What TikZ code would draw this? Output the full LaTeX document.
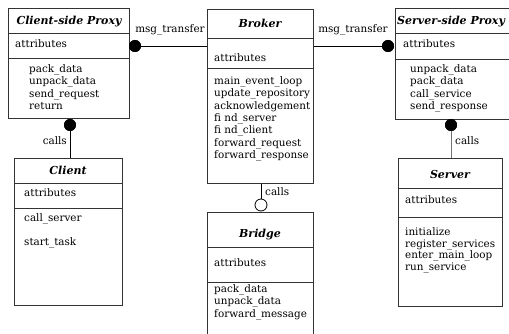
\documentclass[tikz,border=0pt]{standalone}
\usepackage{fontspec}
\setmainfont{DejaVu Serif}
\begin{document}
\begin{tikzpicture}[x=1pt,y=-1pt,
  box/.style={draw=black!80,line width=0.8pt,rectangle,inner sep=0pt,anchor=north west},
  sep/.style={draw=black!80,line width=0.8pt},
  ttl/.style={font=\fontsize{11}{13}\selectfont\bfseries\itshape,inner sep=0pt,anchor=mid},
  txt/.style={font=\fontsize{10.4}{12}\selectfont,inner sep=0pt,anchor=mid west},
  lbl/.style={font=\fontsize{10.4}{12}\selectfont,inner sep=0pt},
  dot/.style={circle,fill=black,inner sep=0pt,minimum size=12pt},
  odot/.style={circle,draw=black,fill=white,line width=0.8pt,inner sep=0pt,minimum size=12pt},
  con/.style={line width=0.8pt}]
\useasboundingbox (0,0) rectangle (509,334);
\clip (0,0) rectangle (509,334);
% boxes
\node[box,minimum width=121pt,minimum height=110pt] (cp) at (8,8) {};
\node[box,minimum width=106pt,minimum height=174pt] (br) at (207,9) {};
\node[box,minimum width=130pt,minimum height=111pt] (sp) at (395,8) {};
\node[box,minimum width=108pt,minimum height=147pt] (cl) at (14,158) {};
\node[box,minimum width=106pt,minimum height=140pt] (bg) at (207,212) {};
\node[box,minimum width=104pt,minimum height=148pt] (sv) at (398,158) {};
% dividers
\draw[sep] (cp.west |- 0,33) -- (cp.east |- 0,33) (cp.west |- 0,58) -- (cp.east |- 0,58);
\draw[sep] (br.west |- 0,38) -- (br.east |- 0,38) (br.west |- 0,68) -- (br.east |- 0,68);
\draw[sep] (sp.west |- 0,33) -- (sp.east |- 0,33) (sp.west |- 0,59) -- (sp.east |- 0,59);
\draw[sep] (cl.west |- 0,183) -- (cl.east |- 0,183) (cl.west |- 0,208) -- (cl.east |- 0,208);
\draw[sep] (bg.west |- 0,247) -- (bg.east |- 0,247) (bg.west |- 0,282) -- (bg.east |- 0,282);
\draw[sep] (sv.west |- 0,188) -- (sv.east |- 0,188) (sv.west |- 0,217) -- (sv.east |- 0,217);
% titles
\node[ttl] (cpt) at (69,22) {Client-side Proxy};
\node[ttl] (brt) at (260,25) {Broker};
\node[ttl,anchor=mid west] (spt) at (397,22) {Server-side Proxy};
\node[ttl] (clt) at (68,172) {Client};
\node[ttl] (bgt) at (260,235) {Bridge};
\node[ttl] (svt) at (450,176) {Server};
% attributes
\node[txt] (cpa) at (15,45) {attributes};
\node[txt] (bra) at (214,59) {attributes};
\node[txt] (spa) at (403,45) {attributes};
\node[txt] (cla) at (24,194) {attributes};
\node[txt] (bga) at (214,264) {attributes};
\node[txt] (sva) at (405,201) {attributes};
% methods
\foreach \t [count=\i from 0] in {pack\_data,unpack\_data,send\_request,return}
  \node[txt] (cpm\i) at (29,70+12.3*\i) {\t};
\foreach \t [count=\i from 0] in {main\_event\_loop,update\_repository,acknowledgement,fi\ nd\_server,fi\ nd\_client,forward\_request,forward\_response}
  \node[txt] (brm\i) at (214,82+12.3*\i) {\t};
\foreach \t [count=\i from 0] in {unpack\_data,pack\_data,call\_service,send\_response}
  \node[txt] (spm\i) at (410,70+12.3*\i) {\t};
\node[txt] (clm0) at (24,219) {call\_server};
\node[txt] (clm1) at (24,243) {start\_task};
\foreach \t [count=\i from 0] in {pack\_data,unpack\_data,forward\_message}
  \node[txt] (bgm\i) at (214,290+12.3*\i) {\t};
\foreach \t [count=\i from 0] in {initialize,register\_services,enter\_main\_loop,run\_service}
  \node[txt] (svm\i) at (405,233+11.5*\i) {\t};
% connectors
\node[dot] (d1) at (135,46) {};
\node[dot] (d2) at (388,46) {};
\node[dot] (d3) at (70,125) {};
\node[odot] (d4) at (261,205) {};
\node[dot] (d5) at (451,125) {};
\draw[con] (d1.center) -- (d1.center -| br.west);
\draw[con] (d2.center -| br.east) -- (d2.center);
\draw[con] (d3.center) -- (d3.center |- cl.north);
\draw[con] (d4.north) -- (d4.north |- br.south);
\draw[con,draw=black!55] (d5.center) -- (d5.center |- sv.north);
\node[dot] at (d1) {};
\node[dot] at (d2) {};
\node[dot] at (d3) {};
\node[dot] at (d5) {};
% labels
\node[lbl] (l1) at (170,30) {msg\_transfer};
\node[lbl] (l2) at (353,30) {msg\_transfer};
\node[lbl,anchor=mid east] (l3) at (67,142) {calls};
\node[lbl,anchor=mid west] (l4) at (265,193) {calls};
\node[lbl,anchor=mid west] (l5) at (455,142) {calls};
\end{tikzpicture}
\end{document}
